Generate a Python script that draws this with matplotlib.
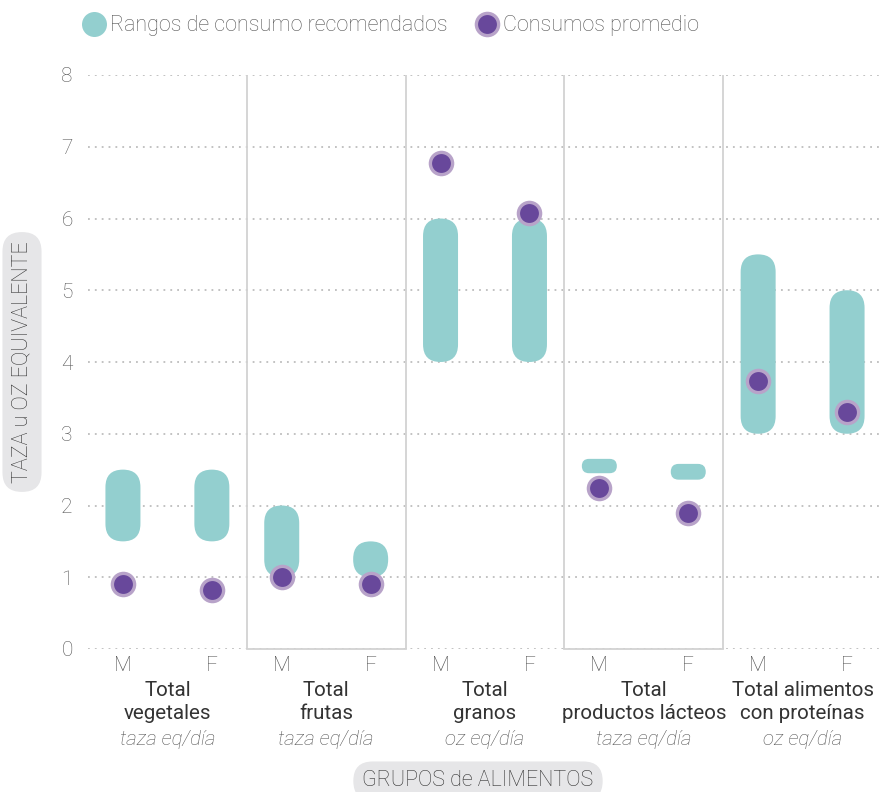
import matplotlib.pyplot as plt
from matplotlib.patches import FancyBboxPatch, BoxStyle
from matplotlib.lines import Line2D

plt.rcParams['font.family'] = ['Roboto', 'DejaVu Sans']

# datos
grupos = ["Total\nvegetales", "Total\nfrutas", "Total\ngranos",
          "Total\nproductos lácteos", "Total alimentos\ncon proteínas"]
unidades = ["taza eq/día", "taza eq/día", "oz eq/día", "taza eq/día", "oz eq/día"]
sexos = ["M", "F"]
rango_min = [[1.5, 1.5], [1.0, 1.0], [4.0, 4.0], [2.45, 2.36], [3.0, 3.0]]
rango_max = [[2.5, 2.5], [2.0, 1.5], [6.0, 6.0], [2.65, 2.58], [5.5, 5.0]]
promedio = [[0.9, 0.82], [1.0, 0.9], [6.77, 6.08], [2.24, 1.89], [3.73, 3.31]]
y_ticks = [0, 1, 2, 3, 4, 5, 6, 7, 8]

teal = "#93cfcf"
morado = "#68489b"
morado_claro = "#b8a3c9"
gris_txt = "#555555"

W, H, DPI = 8.82, 7.92, 100
fig = plt.figure(figsize=(W, H), dpi=DPI)
left, right, top, bottom = 88 / 882, 1.0, 1 - 75 / 792, 1 - 649 / 792
fig.subplots_adjust(left=left, right=right, top=top, bottom=bottom)
ax = fig.add_subplot(111)

ax.set_xlim(-0.5, len(grupos) - 0.5)
ax.set_ylim(0, 8)

# pixeles por unidad en cada eje (para barras redondeadas)
px_x = (right - left) * W * DPI / len(grupos)
px_y = (top - bottom) * H * DPI / 8
aspecto = px_x / px_y
ancho_px = 35
ancho = ancho_px / px_x
desp = 0.28

xs = []
for i in range(len(grupos)):
    for j, s in enumerate(sexos):
        x = i - desp if j == 0 else i + desp
        xs.append(x)
        lo, hi = rango_min[i][j], rango_max[i][j]
        alto_px = (hi - lo) * px_y
        r = min(ancho_px, alto_px) / 2 / px_x
        caja = FancyBboxPatch((x - ancho / 2, lo), ancho, hi - lo,
                              boxstyle=BoxStyle.Round(pad=0, rounding_size=r),
                              mutation_aspect=aspecto, fc=teal, ec="none",
                              zorder=3, clip_on=False)
        ax.add_patch(caja)
        ax.plot(x, promedio[i][j], "o", ms=16, mfc=morado, mec=morado_claro,
                mew=2.4, zorder=4, clip_on=False)

# rejilla y separadores
ax.set_yticks(y_ticks)
ax.yaxis.grid(True, color="#bdbdbd", linestyle=(0, (1, 2.8)), linewidth=1.3)
ax.set_axisbelow(True)
for k in range(len(grupos) - 1):
    ax.axvline(k + 0.5, color="#d2d2d2", lw=1.3, zorder=1)
for k in [1, 3]:
    ax.plot([k - 0.5, k + 0.5], [0, 0], color="#d2d2d2", lw=1.3, zorder=1,
            clip_on=False)

for s in ax.spines.values():
    s.set_visible(False)

ax.set_xticks(xs)
ax.set_xticklabels(sexos * len(grupos))
ax.tick_params(axis="both", length=0, labelsize=15, labelcolor=gris_txt)
ax.tick_params(axis="x", pad=5)
ax.tick_params(axis="y", pad=11)
for t in ax.get_xticklabels() + ax.get_yticklabels():
    t.set_fontweight("light")

for i, (g, u) in enumerate(zip(grupos, unidades)):
    ax.annotate(g, xy=(i, 0), xycoords=("data", "axes fraction"),
                xytext=(0, -23), textcoords="offset points", ha="center",
                va="top", fontsize=14.8, color="#333333", linespacing=1.28)
    ax.annotate(u, xy=(i, 0), xycoords=("data", "axes fraction"),
                xytext=(0, -58), textcoords="offset points", ha="center",
                va="top", fontsize=14.8, color=gris_txt, style="italic",
                fontweight="light")

# titulos de ejes en cajas grises
caja_tit = dict(boxstyle="round,pad=0.42,rounding_size=0.9",
                fc="#e6e6e8", ec="none")
fig.text(22 / 882, 1 - 362 / 792, "TAZA u OZ EQUIVALENTE", rotation=90,
         ha="center", va="center", fontsize=15.5, color="#333333",
         fontweight="light", bbox=caja_tit)
fig.text(478 / 882, 1 - 781 / 792, "GRUPOS de ALIMENTOS",
         ha="center", va="center", fontsize=15.5, color="#333333",
         fontweight="light", bbox=caja_tit)

# leyenda
h1 = Line2D([], [], marker="o", ls="none", ms=18, mfc=teal, mec="none")
h2 = Line2D([], [], marker="o", ls="none", ms=16, mfc=morado,
            mec=morado_claro, mew=2.4)
leg = fig.legend([h1, h2], ["Rangos de consumo recomendados", "Consumos promedio"],
                 loc="center left", bbox_to_anchor=(64 / 882, 1 - 26 / 792),
                 ncol=2, frameon=False, fontsize=15.5, handlelength=1.0,
                 handletextpad=0.25, columnspacing=1.3)
for t in leg.get_texts():
    t.set_color(gris_txt)
    t.set_fontweight("light")

fig.savefig("out.png", dpi=DPI)
